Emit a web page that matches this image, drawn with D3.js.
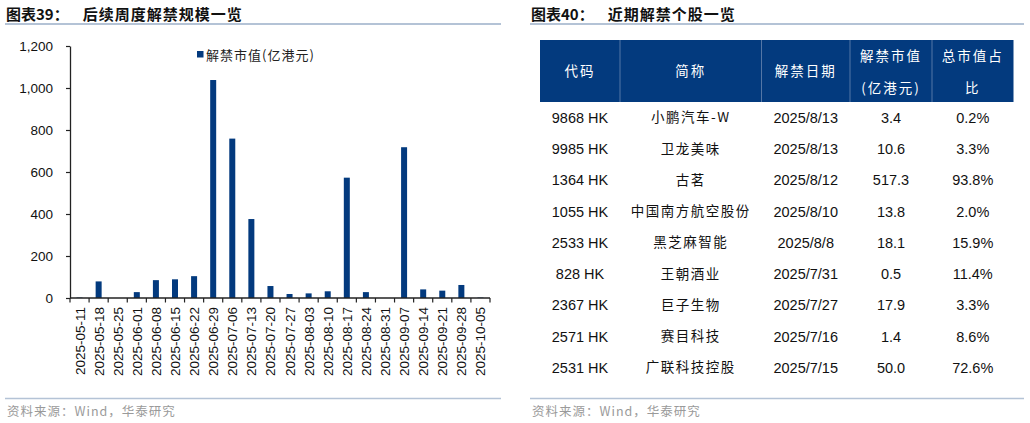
<!DOCTYPE html>
<html><head><meta charset="utf-8">
<script src="https://cdn.jsdelivr.net/npm/d3@7"></script>
<style>
html,body{margin:0;padding:0;background:#fff;}
svg{display:block;}
text{font-family:"Liberation Sans",Arial,sans-serif;}
.cjk{font-family:"Noto Sans CJK SC","Liberation Sans",sans-serif;}
</style></head>
<body>
<svg id="c" width="1030" height="423"></svg>
<script>
const weeks = ["2025-05-11","2025-05-18","2025-05-25","2025-06-01","2025-06-08","2025-06-15","2025-06-22","2025-06-29","2025-07-06","2025-07-13","2025-07-20","2025-07-27","2025-08-03","2025-08-10","2025-08-17","2025-08-24","2025-08-31","2025-09-07","2025-09-14","2025-09-21","2025-09-28","2025-10-05"];
const unlockValue = [2,79,0,28,85,89,104,1038,759,376,57,19,22,32,573,28,0,718,41,35,62,2];
const yTicks = [0,200,400,600,800,1000,1200];

const headers = [["代码"],["简称"],["解禁日期"],["解禁市值","(亿港元)"],["总市值占","比"]];
const codes = ["9868 HK","9985 HK","1364 HK","1055 HK","2533 HK","828 HK","2367 HK","2571 HK","2531 HK"];
const names = ["小鹏汽车-W","卫龙美味","古茗","中国南方航空股份","黑芝麻智能","王朝酒业","巨子生物","赛目科技","广联科技控股"];
const dates = ["2025/8/13","2025/8/13","2025/8/12","2025/8/10","2025/8/8","2025/7/31","2025/7/27","2025/7/16","2025/7/15"];
const values = ["3.4","10.6","517.3","13.8","18.1","0.5","17.9","1.4","50.0"];
const shares = ["0.2%","3.3%","93.8%","2.0%","15.9%","11.4%","3.3%","8.6%","72.6%"];

const svg = d3.select("#c");
const navy = "#033a7e";

// ---------- titles & rules ----------
function panelFrame(x0, x1, label, title) {
  const t = svg.append("text").attr("x", x0 + 1).attr("y", 19.5).attr("font-size", 15).attr("font-weight", "bold")
    .attr("class","cjk").attr("fill","#111");
  t.append("tspan").text(label);
  t.append("tspan").attr("dx", 14).attr("letter-spacing", 1).text(title);
  svg.append("line").attr("x1", x0).attr("x2", x1).attr("y1", 24).attr("y2", 24)
    .attr("stroke", "#b4c3d6").attr("stroke-width", 2);
  svg.append("line").attr("x1", x0).attr("x2", x1).attr("y1", 398.5).attr("y2", 398.5)
    .attr("stroke", "#b4c3d6").attr("stroke-width", 1.5);
  svg.append("text").attr("x", x0 + 2).attr("y", 416).attr("font-size", 12.5).attr("letter-spacing", 1)
    .attr("class","cjk").attr("fill","#9a9a9a").text("资料来源：Wind，华泰研究");
}
panelFrame(5, 501, "图表39：", "后续周度解禁规模一览");
panelFrame(530, 1024, "图表40：", "近期解禁个股一览");

// ---------- bar chart ----------
const xb = d3.scaleBand().domain(weeks).range([70, 490]);
const y = d3.scaleLinear().domain([0, 1200]).range([298, 46]);

const gy = svg.append("g").attr("transform", "translate(70,0)")
  .call(d3.axisLeft(y).tickValues(yTicks).tickSize(4).tickSizeOuter(0).tickFormat(d3.format(",")));
gy.select(".domain").attr("stroke", "#222").attr("stroke-width", 1.3);
gy.selectAll(".tick line").attr("stroke", "#222").attr("stroke-width", 1.2);
gy.selectAll(".tick text").attr("font-size", 13.5).attr("fill", "#111").attr("x", -17)
  .attr("font-family","Liberation Sans, Arial, sans-serif");

svg.append("g").selectAll("rect").data(weeks).join("rect")
  .attr("x", d => xb(d) + xb.bandwidth()/2 - 3)
  .attr("width", 6)
  .attr("y", (d,i) => y(unlockValue[i]))
  .attr("height", (d,i) => y(0) - y(unlockValue[i]))
  .attr("fill", navy);

// x axis line with boundary ticks
svg.append("line").attr("x1", 70).attr("x2", 490).attr("y1", 298).attr("y2", 298)
  .attr("stroke", "#222").attr("stroke-width", 1.3);
const bounds = weeks.map(w => xb(w)).concat([xb(weeks[weeks.length-1]) + xb.bandwidth()]);
svg.append("g").selectAll("line").data(bounds).join("line")
  .attr("x1", d => d).attr("x2", d => d).attr("y1", 298).attr("y2", 302.5)
  .attr("stroke", "#222").attr("stroke-width", 1.2);
svg.append("g").selectAll("text").data(weeks).join("text")
  .attr("transform", d => `translate(${xb(d) + xb.bandwidth()/2 + 5},307) rotate(-90)`)
  .attr("text-anchor", "end").attr("font-size", 13.5).attr("fill", "#111")
  .text(d => d);

// legend
svg.append("rect").attr("x", 197).attr("y", 51).attr("width", 6.5).attr("height", 6.5).attr("fill", navy);
svg.append("text").attr("x", 206).attr("y", 59.5).attr("font-size", 13).attr("letter-spacing", 1).attr("class","cjk")
  .attr("fill", "#222").text("解禁市值(亿港元)");

// ---------- table ----------
const colEdges = [540, 620, 761.5, 850, 932, 1013.5];
const colCenter = i => (colEdges[i] + colEdges[i+1]) / 2;
const headTop = 40, headBot = 102, rowH = 31.25;

svg.append("rect").attr("x", colEdges[0]).attr("y", headTop)
  .attr("width", colEdges[5] - colEdges[0]).attr("height", headBot - headTop).attr("fill", navy);
svg.append("g").selectAll("line").data(colEdges.slice(1, 5)).join("line")
  .attr("x1", d => d).attr("x2", d => d).attr("y1", headTop).attr("y2", headBot)
  .attr("stroke", "#5476a6").attr("stroke-width", 1);

headers.forEach((h, i) => {
  const ys = h.length === 1 ? [71] : [56, 88];
  h.forEach((t, j) => {
    svg.append("text").attr("x", colCenter(i)).attr("y", ys[j]).attr("dy", "0.36em")
      .attr("text-anchor", "middle").attr("font-size", 13.5).attr("class", "cjk")
      .attr("letter-spacing", 2).attr("fill", "#fff").text(t);
  });
});

const cols = [codes, names, dates, values, shares];
cols.forEach((col, c) => {
  svg.append("g").selectAll("text").data(col).join("text")
    .attr("x", colCenter(c))
    .attr("y", (d, r) => headBot + rowH * (r + 0.5))
    .attr("dy", "0.36em").attr("text-anchor", "middle")
    .attr("font-size", c === 1 ? 13.5 : 14.5)
    .attr("class", c === 1 ? "cjk" : null)
    .attr("letter-spacing", c === 1 ? 1.5 : 0)
    .attr("fill", "#111").text(d => d);
});
</script>
</body></html>
